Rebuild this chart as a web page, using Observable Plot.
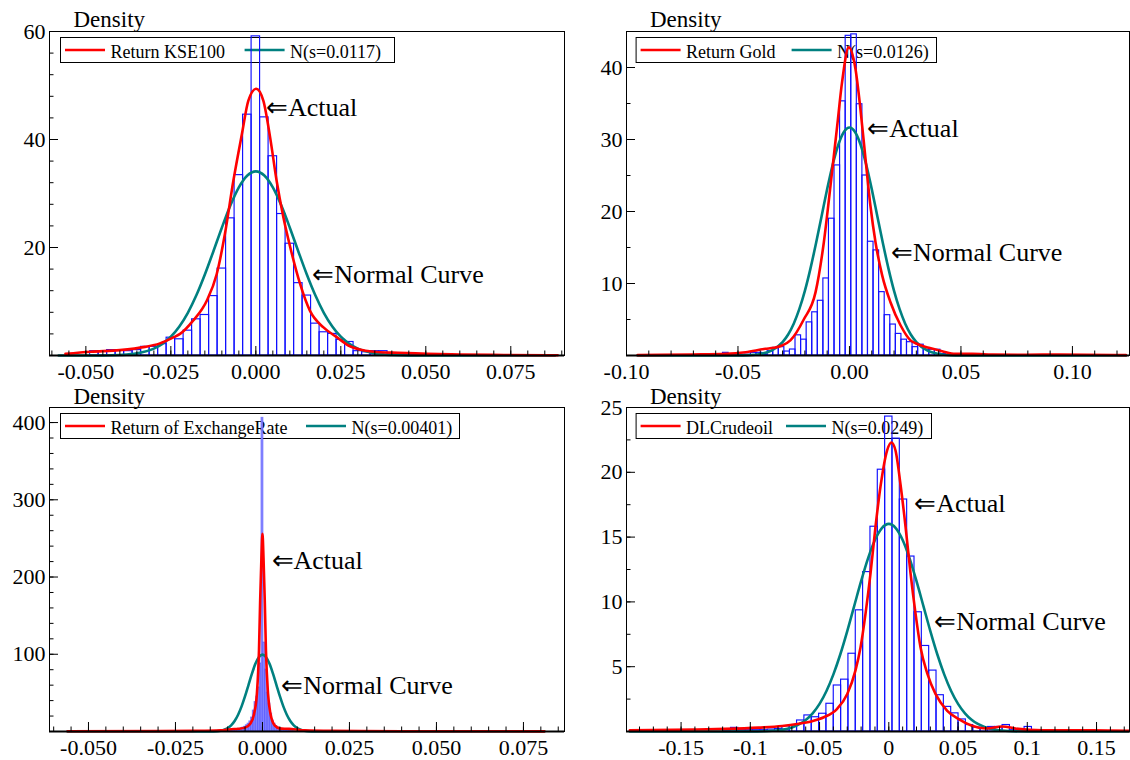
<!DOCTYPE html>
<html>
<head>
<meta charset="utf-8">
<script src="https://cdn.jsdelivr.net/npm/d3@7"></script>
<script src="https://cdn.jsdelivr.net/npm/@observablehq/plot@0.6"></script>
<style>
  html, body { margin: 0; padding: 0; background: #fff; }
  #chart { position: relative; width: 1130px; height: 760px; overflow: hidden; background: #fff; }
</style>
</head>
<body>
<div id="chart"></div>
<script>
const FONT = "'Liberation Serif','Times New Roman',serif";
const densityLabel = "Density";
const annotationLabels = ["\u21D0Actual", "\u21D0Normal Curve"];

// ---------------- Panel 1: KSE100 ----------------
const kseName = "Return KSE100";
const kseNormName = "N(s=0.0117)";
const kseBinWidth = 0.0025;
const kseFirstBinCenter = -0.0475;
const kseHist = [0.8,0.8,1.0,1.0,0.8,1.0,1.6,1.6,2.1,3.3,3.0,4.6,6.7,7.5,11.0,16.1,25.4,33.4,44.6,
  59.1,
  44.1,36.9,26.2,20.7,13.4,11.1,5.9,4.3,4.0,2.9,2.5,0.8,0.6,0.8,0.8,0.2,0.2,0.1,0.1,0.2,0.2];
const kseKdeX = [-0.056,-0.0486,-0.04,-0.0326,-0.0284,-0.0241,-0.0223,-0.0184,-0.0144,-0.0115,-0.0091,-0.0066,-0.0041,-0.0022,0.0001,0.0022,0.0042,0.0061,0.0081,0.0101,0.013,0.0159,0.0199,0.0238,0.0271,0.0313,0.0366,0.0418,0.047,0.0576,0.073,0.0888];
const kseKdeY = [0.3,0.7,1.0,1.6,2.2,3.4,4.0,6.5,10.2,15.1,22.5,32.4,41.0,47.2,49.4,47.2,40.4,32.4,25.6,20.1,13.3,8.3,5.2,3.4,1.9,1.0,0.6,0.5,0.4,0.2,0.1,0.05];
const kseNormX = [-0.058,-0.045,-0.04,-0.035,-0.03,-0.0275,-0.025,-0.0225,-0.02,-0.0175,-0.015,-0.0125,-0.01,-0.0075,-0.005,-0.0025,0,0.0025,0.005,0.0075,0.01,0.0125,0.015,0.0175,0.02,0.0225,0.025,0.0275,0.03,0.035,0.04,0.045,0.088];
const kseNormY = [0,0.01,0.10,0.39,1.27,2.15,3.48,5.37,7.91,11.14,14.99,19.27,23.67,27.76,31.13,33.33,34.10,33.33,31.13,27.76,23.67,19.27,14.99,11.14,7.91,5.37,3.48,2.15,1.27,0.39,0.10,0.01,0];
const kseXTicks = [-0.05,-0.025,0,0.025,0.05,0.075];
const kseXTickLabels = ["-0.050","-0.025","0.000","0.025","0.050","0.075"];
const kseYTicks = [20,40,60];
const kseAnnotX = [0.003, 0.0166];
const kseAnnotY = [45.9, 15.0];

// ---------------- Panel 2: Gold ----------------
const goldName = "Return Gold";
const goldNormName = "N(s=0.0126)";
const goldBinWidth = 0.0025;
const goldFirstBinCenter = -0.05795;
const goldHist = [0.1,0.37,0.1,0.1,0.1,0.1,0.37,0.37,0.1,0.6,1.06,1.16,0.55,0.83,2.8,2.2,4.6,6.0,7.6,10.7,19.0,26.4,35.3,44.4,
  44.6,34.9,25.0,15.8,14.6,8.8,5.6,4.3,3.0,2.2,1.85,1.16,1.5,0.8,0.8,0.8,0.2,0.1,0.1,0.1,0.1,0.1,0.2,0.2];
const goldKdeX = [-0.095,-0.0705,-0.0556,-0.0466,-0.0377,-0.034,-0.0302,-0.0265,-0.0205,-0.0152,-0.0115,-0.0085,-0.0055,-0.0033,-0.0003,0.0027,0.0049,0.0072,0.0094,0.0117,0.0147,0.0184,0.0229,0.0274,0.0296,0.0356,0.0416,0.0475,0.055,0.064,0.079,0.094,0.124];
const goldKdeY = [0.05,0.14,0.23,0.46,0.93,1.07,1.39,2.1,5.0,8.8,15.7,23.6,31.9,38.0,42.8,39.8,34.3,27.3,20.8,15.7,11.1,7.4,4.2,2.1,1.7,1.07,0.6,0.23,0.23,0.14,0.1,0.14,0.05];
const goldNormX = [-0.095,-0.05,-0.045,-0.04,-0.035,-0.03,-0.0275,-0.025,-0.0225,-0.02,-0.0175,-0.015,-0.0125,-0.01,-0.0075,-0.005,-0.0025,0,0.0025,0.005,0.0075,0.01,0.0125,0.015,0.0175,0.02,0.0225,0.025,0.0275,0.03,0.035,0.04,0.045,0.05,0.124];
const goldNormY = [0,0.01,0.05,0.21,0.67,1.86,2.92,4.42,6.43,8.98,12.07,15.59,19.35,23.11,26.52,29.27,31.04,31.66,31.04,29.27,26.52,23.11,19.35,15.59,12.07,8.98,6.43,4.42,2.92,1.86,0.67,0.21,0.05,0.01,0];
const goldXTicks = [-0.1,-0.05,0,0.05,0.1];
const goldXTickLabels = ["-0.10","-0.05","0.00","0.05","0.10"];
const goldYTicks = [10,20,30,40];
const goldAnnotX = [0.008, 0.0186];
const goldAnnotY = [31.5, 14.3];

// ---------------- Panel 3: Exchange rate ----------------
const fxName = "Return of ExchangeRate";
const fxNormName = "N(s=0.00401)";
const fxBinWidth = 0.0005;
const fxFirstBinCenter = -0.01;
const fxHist = [0.5,0.5,1,1,1.5,2,2.5,3,4,5,6,8,10,13,18,27,38,45,57,88,
  406,
  115,80,50,36,23,14,10,7,5,4,3,2.5,2,1.5,1,1,0.5,0.5];
const fxKdeX = [-0.056,-0.03,-0.02,-0.012,-0.009,-0.007,-0.005,-0.0035,-0.0024,-0.0016,-0.001,-0.00066,-0.0003,0,0.0003,0.00066,0.001,0.0016,0.0023,0.0035,0.005,0.007,0.009,0.012,0.02,0.04,0.081];
const fxKdeY = [0.3,0.5,0.8,1.5,3,3.5,5,10,23,49,105,170,225,256,225,170,105,49,23,8,4,3.5,3,1.5,0.8,0.4,0.2];
const fxNormX = [-0.056,-0.016,-0.014,-0.012,-0.011,-0.01,-0.009,-0.008,-0.007,-0.006,-0.005,-0.004,-0.003,-0.002,-0.001,0,0.001,0.002,0.003,0.004,0.005,0.006,0.007,0.008,0.009,0.01,0.011,0.012,0.014,0.016,0.081];
const fxNormY = [0,0.03,0.22,1.13,2.31,4.44,8.02,13.6,21.7,32.5,45.7,60.5,75.2,87.9,96.4,99.5,96.4,87.9,75.2,60.5,45.7,32.5,21.7,13.6,8.02,4.44,2.31,1.13,0.22,0.03,0];
const fxXTicks = [-0.05,-0.025,0,0.025,0.05,0.075];
const fxXTickLabels = ["-0.050","-0.025","0.000","0.025","0.050","0.075"];
const fxYTicks = [100,200,300,400];
const fxAnnotX = [0.0026, 0.0054];
const fxAnnotY = [221, 59.5];

// ---------------- Panel 4: Crude oil ----------------
const oilName = "DLCrudeoil";
const oilNormName = "N(s=0.0249)";
const oilBinWidth = 0.0053;
const oilFirstBinCenter = -0.1166;
const oilHist = [0.05,0.28,0.1,0.1,0.1,0.1,0.15,0.2,0.4,0.46,0.85,1.24,1.1,1.37,2.14,3.55,4.0,6.0,9.35,12.3,15.8,20.2,
  24.3,
  22.6,17.9,13.5,9.2,6.6,4.7,2.8,1.9,1.4,0.93,0.5,0.3,0.2,0.35,0.35,0.5,0.1,0.05,0.35,0.05];
const oilKdeX = [-0.187,-0.14,-0.118,-0.094,-0.077,-0.065,-0.0553,-0.0469,-0.0373,-0.03,-0.0241,-0.0204,-0.0168,-0.0132,-0.0096,-0.006,-0.0012,0.0019,0.0048,0.0084,0.0121,0.0157,0.0193,0.0229,0.0277,0.0337,0.0422,0.0505,0.06,0.07,0.082,0.0915,0.111,0.147,0.174];
const oilKdeY = [0.1,0.15,0.2,0.3,0.42,0.6,0.8,1.1,1.75,2.9,4.7,6.5,9.1,12.2,15.8,18.9,21.7,22.3,21.7,19.1,15.8,12.2,9.1,6.5,4.5,2.9,1.6,0.95,0.44,0.23,0.39,0.23,0.1,0.1,0.05];
const oilNormX = [-0.187,-0.1,-0.09,-0.08,-0.07,-0.06,-0.055,-0.05,-0.045,-0.04,-0.035,-0.03,-0.025,-0.02,-0.015,-0.01,-0.005,0,0.005,0.01,0.015,0.02,0.025,0.03,0.035,0.04,0.045,0.05,0.055,0.06,0.07,0.08,0.09,0.1,0.174];
const oilNormY = [0,0.005,0.023,0.092,0.31,0.88,1.40,2.13,3.13,4.41,5.96,7.75,9.68,11.60,13.36,14.78,15.70,16.02,15.70,14.78,13.36,11.60,9.68,7.75,5.96,4.41,3.13,2.13,1.40,0.88,0.31,0.092,0.023,0.005,0];
const oilXTicks = [-0.15,-0.1,-0.05,0,0.05,0.1,0.15];
const oilXTickLabels = ["-0.15","-0.1","-0.05","0","0.05","0.1","0.15"];
const oilYTicks = [5,10,15,20,25];
const oilAnnotX = [0.0183, 0.0329];
const oilAnnotY = [17.6, 8.5];

// ---------------- layout ----------------
const panels = [
  {left: 0, top: 0, mL: 49, mT: 31, mB: 25, xDomain: [-0.0607, 0.0908], yDomain: [0, 60], xMinorStep: 0.005, yMinorStep: 4,
   name: kseName, normName: kseNormName, hist: kseHist, binW: kseBinWidth, binC0: kseFirstBinCenter,
   kdeX: kseKdeX, kdeY: kseKdeY, normX: kseNormX, normY: kseNormY, xTicks: kseXTicks, xTickLabels: kseXTickLabels,
   yTicks: kseYTicks, annX: kseAnnotX, annY: kseAnnotY, bar: {stroke: "#1010ff", op: 1, fill: "none"},
   legend: {x: 60, y: 37, w: 334, second: 184.6}, dens: {x: 73.5, y: 27}},
  {left: 565, top: 0, mL: 61, mT: 31, mB: 25, xDomain: [-0.1, 0.1256], yDomain: [0, 45], xMinorStep: 0.01, yMinorStep: 5,
   name: goldName, normName: goldNormName, hist: goldHist, binW: goldBinWidth, binC0: goldFirstBinCenter,
   kdeX: goldKdeX, kdeY: goldKdeY, normX: goldNormX, normY: goldNormY, xTicks: goldXTicks, xTickLabels: goldXTickLabels,
   yTicks: goldYTicks, annX: goldAnnotX, annY: goldAnnotY, bar: {stroke: "#1010ff", op: 1, fill: "none"},
   legend: {x: 635.6, y: 37, w: 300.4, second: 156}, dens: {x: 650, y: 27}},
  {left: 0, top: 380, mL: 49, mT: 27, mB: 29, xDomain: [-0.0612, 0.0868], yDomain: [0, 419.5], xMinorStep: 0.005, yMinorStep: 20,
   name: fxName, normName: fxNormName, hist: fxHist, binW: fxBinWidth, binC0: fxFirstBinCenter,
   kdeX: fxKdeX, kdeY: fxKdeY, normX: fxNormX, normY: fxNormY, xTicks: fxXTicks, xTickLabels: fxXTickLabels,
   yTicks: fxYTicks, annX: fxAnnotX, annY: fxAnnotY, bar: {stroke: "#4a4aff", op: 0.6, fill: "#9a9aff"},
   legend: {x: 60, y: 413, w: 399, second: 246}, dens: {x: 73.5, y: 404}},
  {left: 565, top: 380, mL: 61, mT: 27, mB: 29, xDomain: [-0.1894, 0.1738], yDomain: [0, 25], xMinorStep: 0.01, yMinorStep: 2.5,
   name: oilName, normName: oilNormName, hist: oilHist, binW: oilBinWidth, binC0: oilFirstBinCenter,
   kdeX: oilKdeX, kdeY: oilKdeY, normX: oilNormX, normY: oilNormY, xTicks: oilXTicks, xTickLabels: oilXTickLabels,
   yTicks: oilYTicks, annX: oilAnnotX, annY: oilAnnotY, bar: {stroke: "#1010ff", op: 1, fill: "none"},
   legend: {x: 635.6, y: 413, w: 295.4, second: 150.4}, dens: {x: 650, y: 404}}
];

const RED = "#ff0000", TEAL = "#008080";

function ticksIn([a, b], step) {
  const i0 = Math.ceil(a / step - 1e-9), i1 = Math.floor(b / step + 1e-9);
  return d3.range(i0, i1 + 1).map(i => +(i * step).toFixed(6));
}

const root = d3.select("#chart");

// under-layer: legends and "Density" labels (data drawn over them)
const under = root.append("svg").attr("width", 1130).attr("height", 760)
  .style("position", "absolute").style("left", "0px").style("top", "0px")
  .attr("font-family", FONT);

panels.forEach(p => {
  under.append("text").attr("x", p.dens.x).attr("y", p.dens.y).attr("font-size", 23).attr("fill", "#000").text(densityLabel);
  const L = p.legend;
  const g = under.append("g").attr("transform", `translate(${L.x},${L.y})`);
  g.append("rect").attr("x", 0.5).attr("y", 0.5).attr("width", L.w).attr("height", 25)
    .attr("fill", "none").attr("stroke", "#000").attr("stroke-width", 1);
  g.append("line").attr("x1", 5).attr("x2", 45).attr("y1", 13).attr("y2", 13).attr("stroke", RED).attr("stroke-width", 2.6);
  g.append("text").attr("x", 50.5).attr("y", 20.5).attr("font-size", 18).attr("fill", "#000").text(p.name);
  g.append("line").attr("x1", L.second).attr("x2", L.second + 40).attr("y1", 13).attr("y2", 13).attr("stroke", TEAL).attr("stroke-width", 2.6);
  g.append("text").attr("x", L.second + 45.5).attr("y", 20.5).attr("font-size", 18).attr("fill", "#000").text(p.normName);
});

panels.forEach(p => {
  const bars = p.hist.map((v, i) => {
    const c = p.binC0 + i * p.binW;
    return {x1: c - p.binW / 2, x2: c + p.binW / 2, v};
  });
  const kde = p.kdeX.map((x, i) => ({x, y: p.kdeY[i]}));
  const norm = p.normX.map((x, i) => ({x, y: p.normY[i]}));
  const ann = annotationLabels.map((t, i) => ({x: p.annX[i], y: p.annY[i], t}));
  const xLab = new Map(p.xTicks.map((v, i) => [v, p.xTickLabels[i]]));
  const xMinor = ticksIn(p.xDomain, p.xMinorStep);
  const yMinor = ticksIn(p.yDomain, p.yMinorStep);

  const svg = Plot.plot({
    width: 565, height: 380,
    marginLeft: p.mL, marginRight: 1, marginTop: p.mT, marginBottom: p.mB,
    style: `background:transparent;font-family:${FONT};font-size:22px;color:#000;overflow:visible;`,
    x: {domain: p.xDomain, label: null},
    y: {domain: p.yDomain, label: null},
    marks: [
      Plot.rectY(bars, {x1: "x1", x2: "x2", y: "v", fill: p.bar.fill, stroke: p.bar.stroke, strokeOpacity: p.bar.op, strokeWidth: 1.15}),
      Plot.line(norm, {x: "x", y: "y", stroke: TEAL, strokeWidth: 2.6, curve: "monotone-x"}),
      Plot.line(kde, {x: "x", y: "y", stroke: RED, strokeWidth: 2.6, curve: "monotone-x"}),
      Plot.text(ann, {x: "x", y: "y", text: "t", textAnchor: "start", fontSize: 26, fill: "#000"}),
      Plot.axisX(xMinor, {tickSize: -4.5, tickFormat: () => "", label: null}),
      Plot.axisX(p.xTicks, {tickSize: -9, tickFormat: () => "", label: null}),
      Plot.axisX(p.xTicks, {tickSize: 0, tickPadding: 8, tickFormat: d => xLab.get(d), fontSize: 22, label: null}),
      Plot.axisY(yMinor, {tickSize: -4.5, tickFormat: () => "", label: null}),
      Plot.axisY(p.yTicks, {tickSize: -9, tickFormat: () => "", label: null}),
      Plot.axisY(p.yTicks, {tickSize: 0, tickPadding: 4, tickFormat: d => String(d), fontSize: 22, label: null}),
      Plot.ruleY([0], {stroke: "#000", strokeWidth: 2}),
      Plot.frame({stroke: "#000", strokeWidth: 1})
    ]
  });
  d3.select(svg).style("position", "absolute").style("left", p.left + "px").style("top", p.top + "px");
  root.node().appendChild(svg);
});
</script>
</body>
</html>
